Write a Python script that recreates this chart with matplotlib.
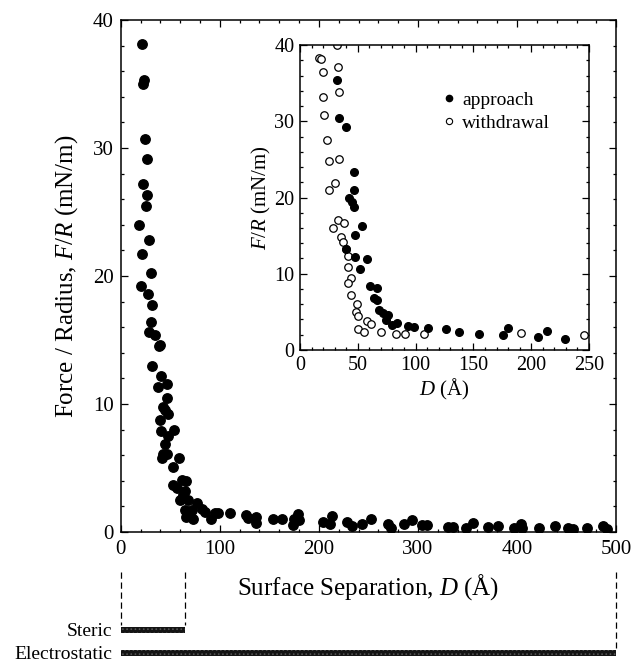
import matplotlib
matplotlib.use("Agg")
import matplotlib.pyplot as plt
from matplotlib.ticker import MultipleLocator
from matplotlib.lines import Line2D

plt.rcParams["font.family"] = ["Liberation Serif", "DejaVu Serif"]
plt.rcParams["mathtext.fontset"] = "custom"
plt.rcParams["mathtext.rm"] = "Liberation Serif"
plt.rcParams["mathtext.it"] = "Liberation Serif:italic"
plt.rcParams["hatch.linewidth"] = 0.7

# ---- main force curve: separation D (Å) vs F/R (mN/m) ----
main_d = [21.2, 23.5, 22.8, 24.8, 26.2, 22.2, 26.8, 25.2, 18.8, 28.9, 21.5, 30.3,
          20.8, 27.9, 31.3, 30.3, 28.6, 34.6, 39.7, 38.6, 31.9, 40.4, 46.4, 37.3,
          46.4, 42.4, 44.7, 47.4, 39.7, 54.1, 40.7, 48.0, 44.7, 43.0, 46.4, 41.4,
          58.5, 52.5, 53.1, 61.6, 65.9, 56.5, 64.9, 62.6, 59.8, 68.2, 76.7, 64.9,
          71.6, 65.9, 73.3, 81.7, 85.1, 91.1, 95.2, 98.5, 110.3, 126.4, 128.8, 136.5,
          136.2, 154.0, 162.5, 173.5, 175.2, 179.3, 180.2, 204.5, 211.2, 213.5, 228.0,
          233.7, 243.8, 252.6, 269.4, 272.8, 286.2, 294.3, 303.7, 308.8, 330.6, 335.6,
          348.1, 355.8, 370.9, 381.0, 397.2, 403.6, 404.6, 422.1, 438.2, 451.6, 456.7,
          470.8, 486.4, 490.4]
main_f = [38.1, 35.3, 35.0, 30.7, 29.1, 27.2, 26.3, 25.5, 24.0, 22.8, 21.7, 20.2,
          19.2, 18.6, 17.7, 16.4, 15.6, 15.4, 14.6, 14.5, 13.0, 12.2, 11.6, 11.3,
          10.5, 9.8, 9.5, 9.2, 8.75, 8.0, 7.9, 7.5, 6.9, 6.1, 6.1, 5.75,
          5.8, 5.1, 3.7, 4.1, 4.0, 3.4, 3.2, 2.9, 2.5, 2.5, 2.3, 1.7,
          1.7, 1.15, 1.0, 1.8, 1.6, 1.0, 1.5, 1.5, 1.5, 1.3, 1.1, 1.15,
          0.7, 1.0, 1.0, 0.55, 1.0, 1.4, 0.95, 0.8, 0.6, 1.25, 0.8,
          0.45, 0.6, 1.0, 0.6, 0.35, 0.6, 0.9, 0.55, 0.55, 0.4, 0.4,
          0.35, 0.7, 0.4, 0.45, 0.35, 0.6, 0.3, 0.3, 0.5, 0.3, 0.25,
          0.3, 0.5, 0.25]

# ---- inset: approach and withdrawal branches ----
approach_d = [31.7, 33.7, 39.8, 46.7, 46.7, 42.7, 44.7, 47.0, 53.4, 47.6, 39.5,
              47.6, 58.2, 51.9, 60.6, 66.4, 63.7, 67.0, 67.9, 71.4, 75.7, 74.8,
              79.3, 84.2, 93.8, 98.2, 110.4, 126.3, 137.5, 154.8, 175.3, 180.2,
              205.9, 213.4, 229.2]
approach_f = [35.4, 30.4, 29.2, 23.3, 21.0, 19.9, 19.45, 18.7, 16.2, 15.1, 13.2,
              12.2, 11.9, 10.6, 8.4, 8.1, 6.8, 6.5, 5.25, 4.9, 4.6, 3.9,
              3.3, 3.5, 3.1, 3.0, 2.9, 2.75, 2.4, 2.05, 2.0, 2.85,
              1.75, 2.55, 1.5]
withdrawal_d = [32.3, 16.5, 18.2, 19.6, 33.2, 33.7, 19.6, 21.0, 23.1, 25.1, 34.0,
                30.3, 25.4, 33.2, 38.3, 28.8, 35.2, 37.5, 39.8, 41.2, 41.8, 43.8,
                41.8, 43.8, 49.0, 48.2, 49.9, 57.7, 61.1, 49.9, 55.6, 70.1, 82.8,
                90.8, 107.6, 190.9, 246.0]
withdrawal_f = [40.0, 38.3, 38.2, 36.4, 37.1, 33.9, 33.2, 30.8, 27.6, 24.8, 25.0,
                21.9, 21.0, 17.1, 16.6, 16.0, 14.8, 14.2, 13.3, 12.3, 10.9, 9.4,
                8.8, 7.2, 6.0, 5.0, 4.5, 3.85, 3.4, 2.8, 2.4, 2.3, 2.05,
                2.05, 2.1, 2.2, 2.0]

# ---- interaction ranges shown below the axis ----
range_names = ["Steric", "Electrostatic"]
range_ends = [65, 500]

fig = plt.figure(figsize=(6.32, 6.65), dpi=100)

def style_axes(ax, major_x, minor_x, major_y, minor_y, size):
    ax.xaxis.set_major_locator(MultipleLocator(major_x))
    ax.xaxis.set_minor_locator(MultipleLocator(minor_x))
    ax.yaxis.set_major_locator(MultipleLocator(major_y))
    ax.yaxis.set_minor_locator(MultipleLocator(minor_y))
    ax.tick_params(which="both", direction="in", top=True, right=True,
                   labelsize=size, width=0.9, colors="black")
    ax.tick_params(which="major", length=5)
    ax.tick_params(which="minor", length=2.5)
    for s in ax.spines.values():
        s.set_linewidth(1.1)

ax = fig.add_axes([0.191, 0.200, 0.784, 0.770])
ax.plot(main_d, main_f, "o", color="black", markersize=6.8, zorder=3)
ax.set_xlim(0, 500)
ax.set_ylim(0, 40)
style_axes(ax, 100, 20, 10, 2, 15)
ax.tick_params(axis="x", which="major", pad=6)
ax.tick_params(axis="y", which="major", pad=5)
ax.set_xlabel("Surface Separation, $D$ (Å)", fontsize=18, labelpad=9)
ax.set_ylabel("Force / Radius, $F/R$ (mN/m)", fontsize=18, labelpad=9)

axi = fig.add_axes([0.4747, 0.4737, 0.4573, 0.4586])
axi.plot(approach_d, approach_f, "o", color="black", markersize=5.5,
         zorder=3)
axi.plot(withdrawal_d, withdrawal_f, "o", markerfacecolor="white",
         markeredgecolor="black", markeredgewidth=0.9, markersize=5.4,
         zorder=2)
axi.set_xlim(0, 250)
axi.set_ylim(0, 40)
style_axes(axi, 50, 10, 10, 2, 14.5)
axi.tick_params(which="major", pad=4)
axi.set_xlabel("$D$ (Å)", fontsize=15, labelpad=2)
axi.set_ylabel("$F/R$ (mN/m)", fontsize=15, labelpad=1)
handles = [
    Line2D([], [], marker="o", ls="none", color="black", markersize=4.5),
    Line2D([], [], marker="o", ls="none", markerfacecolor="white",
           markeredgecolor="black", markeredgewidth=0.8, markersize=4.5),
]
axi.legend(handles, ["approach", "withdrawal"], loc="upper left",
           bbox_to_anchor=(0.47, 0.875), frameon=False, fontsize=14,
           handlelength=0.6, handletextpad=0.35, labelspacing=0.3,
           borderaxespad=0)

# range bars share the main x scale; y runs in figure pixels from the top
axb = fig.add_axes([0.191, 0.0, 0.784, 105 / 665])
axb.set_xlim(0, 500)
axb.set_ylim(665, 560)
bar_y = [630, 653]
axb.barh(bar_y, range_ends, left=0, height=6.5, color="0.08",
         edgecolor="0.32", hatch="....", linewidth=0)
for d, y_end in [(0, 625), (range_ends[0], 625), (range_ends[1], 648)]:
    axb.plot([d, d], [572, y_end], ls=(0, (5, 3)), color="black", lw=0.9,
             clip_on=False)
axb.set_yticks(bar_y)
axb.set_yticklabels(range_names, fontsize=14)
axb.tick_params(axis="y", length=0, pad=6)
axb.set_xticks([])
for s in axb.spines.values():
    s.set_visible(False)
axb.patch.set_alpha(0)

fig.savefig("out.png", dpi=100, facecolor="white")
